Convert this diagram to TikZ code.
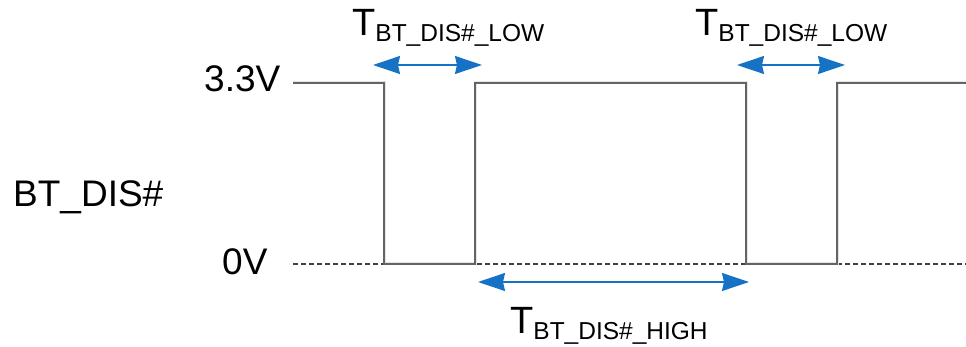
\documentclass[tikz,border=0pt]{standalone}
\usepackage{fontspec}
\setmainfont{Liberation Sans}
\usetikzlibrary{arrows.meta}
\definecolor{arrowblue}{RGB}{22,114,196}
\definecolor{wavegray}{RGB}{100,100,100}
\tikzset{
  wave/.style={draw=wavegray, line width=1.5pt, line join=miter},
  waveshadow/.style={draw=black!10, line width=3pt},
  baseline0/.style={draw=black!75, line width=1.2pt, dash pattern=on 5pt off 3pt},
  dimarrow/.style={draw=arrowblue, line width=1.5pt, {Stealth[length=27pt,width=18pt,inset=2pt]}-{Stealth[length=27pt,width=18pt,inset=2pt]}},
  bigtext/.style={inner sep=0pt, anchor=base west, font=\fontsize{37}{40}\selectfont},
  tlabel/.style={inner sep=0pt, anchor=base west}
}
\newcommand{\tsub}[1]{{\fontsize{38}{40}\selectfont T}\raisebox{-6pt}{\fontsize{24.5}{26}\selectfont #1}}
\begin{document}
\begin{tikzpicture}[x=1pt,y=-1pt]
\useasboundingbox (0,0) rectangle (966,347);
% waveform corner coordinates
\coordinate (s)  at (293,83);
\coordinate (f1t) at (384,83);
\coordinate (f1b) at (384,264);
\coordinate (r1b) at (475,264);
\coordinate (r1t) at (475,83);
\coordinate (f2t) at (746,83);
\coordinate (f2b) at (746,264);
\coordinate (r2b) at (837,264);
\coordinate (r2t) at (837,83);
\coordinate (e)  at (966,83);
\coordinate (d0) at (293,264);
\coordinate (d1) at (966,264);
% baseline (0V reference)
\draw[baseline0] (d0) -- (d1);
% shadow
\draw[waveshadow, shift={(3,3)}] (s) -- (f1t) -- (f1b) -- (r1b) -- (r1t) -- (f2t) -- (f2b) -- (r2b) -- (r2t) -- (e);
% waveform
\draw[wave] (s) -- (f1t) -- (f1b) -- (r1b) -- (r1t) -- (f2t) -- (f2b) -- (r2b) -- (r2t) -- (e);
% text labels
\node[bigtext] (v33) at (204,92) {3.3V};
\node[bigtext] (sig) at (13,207) {BT\_DIS\#};
\node[bigtext] (v0) at (222,275) {0V};
% timing arrows
\coordinate (a1l) at (373,65);
\coordinate (a1r) at (482,65);
\coordinate (a2l) at (737,65);
\coordinate (a2r) at (845,65);
\coordinate (a3l) at (478,282);
\coordinate (a3r) at (749,282);
\draw[dimarrow] (a1l) -- (a1r);
\draw[dimarrow] (a2l) -- (a2r);
\draw[dimarrow] (a3l) -- (a3r);
% timing labels
\node[tlabel] (tlow1) at (352,36) {\tsub{BT\_DIS\#\_LOW}};
\node[tlabel] (tlow2) at (695,36) {\tsub{BT\_DIS\#\_LOW}};
\node[tlabel] (thigh) at (510,333) {\tsub{BT\_DIS\#\_HIGH}};
\end{tikzpicture}
\end{document}
